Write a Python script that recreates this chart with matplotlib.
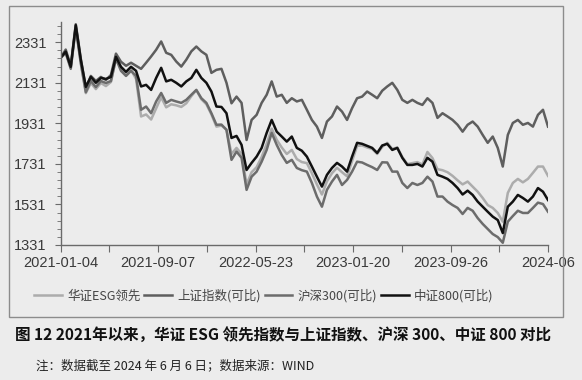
import numpy as np
import matplotlib
matplotlib.use('Agg')
import matplotlib.pyplot as plt
from matplotlib.patches import Rectangle
from matplotlib.ticker import MultipleLocator, FixedLocator

plt.rcParams['font.family'] = ['Noto Sans CJK SC', 'DejaVu Sans']

# Series values (one sample every ~8.5 trading days)
esg = [2255, 2275, 2205, 2400, 2225, 2080, 2130, 2100, 2130, 2115, 2135, 2250, 2205, 2175, 2195, 2150,
       1965, 1975, 1950, 2005, 2060, 2010, 2025, 2020, 2012, 2030, 2065, 2095, 2050, 2025, 1975, 1915,
       1920, 1900, 1780, 1810, 1780, 1630, 1690, 1715, 1765, 1830, 1905, 1850, 1812, 1780, 1800, 1755,
       1740, 1735, 1685, 1630, 1580, 1645, 1685, 1712, 1690, 1670, 1745, 1820, 1822, 1812, 1805, 1780,
       1815, 1835, 1805, 1812, 1765, 1730, 1735, 1740, 1728, 1790, 1760, 1705, 1700, 1690, 1672, 1650,
       1630, 1644, 1619, 1594, 1563, 1528, 1514, 1489, 1446, 1588, 1637, 1657, 1640, 1657, 1687, 1718,
       1718, 1672]
shanghai = [2255, 2295, 2215, 2420, 2250, 2105, 2165, 2140, 2160, 2145, 2170, 2275, 2235, 2215, 2230, 2215,
            2200, 2230, 2261, 2294, 2335, 2279, 2269, 2236, 2211, 2245, 2286, 2310, 2286, 2269, 2180, 2195,
            2200, 2131, 2030, 2063, 2032, 1849, 1948, 1973, 2032, 2072, 2138, 2063, 2072, 2032, 2055, 2039,
            2047, 1998, 1948, 1915, 1859, 1940, 1965, 2014, 1989, 1948, 2006, 2055, 2063, 2088, 2072, 2055,
            2092, 2113, 2131, 2096, 2047, 2032, 2047, 2032, 2022, 2055, 2032, 1958, 1981, 1965, 1948, 1924,
            1890, 1924, 1940, 1915, 1874, 1835, 1866, 1810, 1718, 1874, 1933, 1948, 1924, 1933, 1915, 1973,
            1998, 1915]
hs300 = [2255, 2280, 2200, 2405, 2230, 2085, 2140, 2110, 2140, 2130, 2140, 2250, 2190, 2165, 2190, 2165,
         1998, 2014, 1981, 2039, 2081, 2032, 2047, 2039, 2032, 2047, 2072, 2096, 2055, 2032, 1981, 1924,
         1925, 1899, 1751, 1792, 1761, 1603, 1668, 1693, 1742, 1800, 1884, 1825, 1775, 1736, 1751, 1711,
         1700, 1693, 1637, 1570, 1520, 1603, 1644, 1677, 1627, 1652, 1693, 1742, 1738, 1726, 1715, 1701,
         1739, 1738, 1693, 1693, 1637, 1612, 1637, 1627, 1637, 1668, 1644, 1570, 1570, 1545, 1528, 1514,
         1484, 1514, 1500, 1464, 1435, 1410, 1385, 1370, 1342, 1446, 1474, 1500, 1489, 1489, 1514, 1540,
         1533, 1495]
zz800 = [2255, 2285, 2210, 2415, 2245, 2111, 2160, 2131, 2155, 2150, 2160, 2259, 2210, 2185, 2210, 2190,
         2113, 2121, 2096, 2155, 2205, 2138, 2146, 2131, 2113, 2138, 2155, 2195, 2155, 2131, 2088, 2014,
         2012, 1981, 1859, 1869, 1825, 1701, 1736, 1767, 1810, 1884, 1948, 1890, 1866, 1841, 1866, 1810,
         1796, 1767, 1718, 1668, 1619, 1677, 1711, 1736, 1718, 1693, 1767, 1835, 1830, 1820, 1810, 1785,
         1822, 1830, 1800, 1810, 1761, 1726, 1726, 1731, 1718, 1761, 1742, 1677, 1668, 1657, 1637, 1612,
         1580, 1599, 1578, 1545, 1520, 1495, 1471, 1454, 1390, 1520, 1545, 1578, 1563, 1545, 1570, 1612,
         1594, 1553]

n_days = 820  # trading days 2021-01-04 .. 2024-06-06
tick_labels = ['2021-01-04', '', '2021-09-07', '', '2022-05-23', '',
               '2023-01-20', '', '2023-09-26', '', '2024-06']
legend_names = ['华证ESG领先', '上证指数(可比)', '沪深300(可比)', '中证800(可比)']

x = np.linspace(0, n_days, len(zz800))

bg = '#ececec'
fig = plt.figure(figsize=(5.82, 3.80), dpi=100)
fig.patch.set_facecolor(bg)
ax = fig.add_axes([60.7 / 582, 1 - 245 / 380, (548 - 60.7) / 582, (245 - 22) / 380])
ax.set_facecolor(bg)

series = [(esg, '#acacac'), (shanghai, '#5e5e5e'), (hs300, '#6c6c6c'), (zz800, '#111111')]
lines = []
for (vals, col), name in zip(series, legend_names):
    ln, = ax.plot(x, vals, color=col, linewidth=1.8, label=name)
    lines.append(ln)

ax.set_xlim(0, n_days)
ax.set_ylim(1331, 2431)
ax.yaxis.set_major_locator(FixedLocator([1331, 1531, 1731, 1931, 2131, 2331]))
ax.yaxis.set_minor_locator(MultipleLocator(40, offset=11))
ax.set_xticks(np.linspace(0, n_days, len(tick_labels)))
ax.set_xticklabels(tick_labels)

for s in ['top', 'right']:
    ax.spines[s].set_visible(False)
for s in ['left', 'bottom']:
    ax.spines[s].set_color('#6a6a6a')
    ax.spines[s].set_linewidth(1.0)

ax.tick_params(axis='both', which='both', colors='#6a6a6a', labelcolor='#3a3a3a',
               labelsize=10.5, direction='out')
ax.tick_params(axis='y', which='major', length=4, pad=6)
ax.tick_params(axis='y', which='minor', length=3)
ax.tick_params(axis='x', which='major', length=5, pad=3)
for lab in ax.get_xticklabels() + ax.get_yticklabels():
    lab.set_family('Liberation Sans')

leg = fig.legend(handles=lines, loc='center left', bbox_to_anchor=(34 / 582, 1 - 296 / 380),
                 ncol=4, frameon=False, fontsize=9, handlelength=2.2, handletextpad=0.45,
                 columnspacing=0.3, borderpad=0, borderaxespad=0)
for t in leg.get_texts():
    t.set_color('#444444')

# outer chart-area border
fig.patches.append(Rectangle((9 / 582, 1 - 317 / 380), (563 - 9) / 582, (317 - 6) / 380,
                             transform=fig.transFigure, fill=False, edgecolor='#8c8c8c',
                             linewidth=1.0))

fig.text(15 / 582, 1 - 335 / 380,
         '图 12 2021年以来，华证 ESG 领先指数与上证指数、沪深 300、中证 800 对比',
         fontsize=11.2, fontweight='bold', color='#111111', va='center', ha='left')
fig.text(36 / 582, 1 - 366 / 380, '注：数据截至 2024 年 6 月 6 日；数据来源：WIND',
         fontsize=9, color='#222222', va='center', ha='left')

fig.savefig('out.png', dpi=100, facecolor=bg)
